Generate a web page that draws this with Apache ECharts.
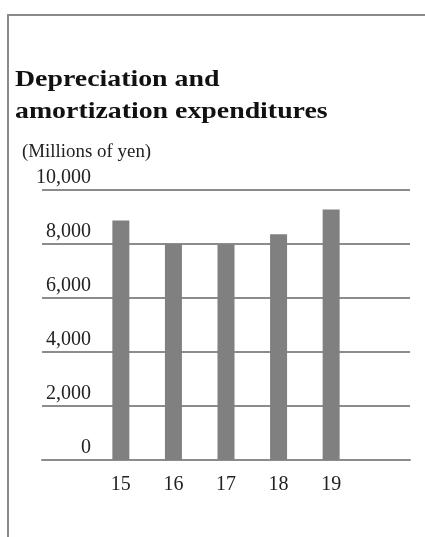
<!DOCTYPE html>
<html>
<head>
<meta charset="utf-8">
<script src="https://cdn.jsdelivr.net/npm/echarts@6/dist/echarts.min.js"></script>
<style>
  html, body { margin: 0; padding: 0; background: #ffffff; }
  #chart { width: 425px; height: 537px; }
</style>
</head>
<body>
<div id="chart"></div>
<script>
// Fiscal years (empty slots pad the band on both sides)
const years = ['15', '16', '17', '18', '19'];
// Depreciation and amortization expenditures, millions of yen
const expenditures = [8870, 8000, 7990, 8360, 9280];
// Value axis ticks
const yMin = 0;
const yMax = 10000;
const yStep = 2000;

const titleLines = ['Depreciation and', 'amortization expenditures'];
const unitLabel = '(Millions of yen)';

const categories = [''].concat(years, ['']);
const seriesData = [null].concat(expenditures, [null]);

const serif = '"Liberation Serif", "Times New Roman", serif';
const lineGray = '#8c8c8c';

const chart = echarts.init(document.getElementById('chart'), null, { renderer: 'canvas' });

// Wide serif title lines, drawn as stretched text
const titleGraphics = titleLines.map((line, i) => ({
  type: 'text',
  x: 15,
  y: 80 + i * 32,
  scaleX: 1.16,
  silent: true,
  style: {
    text: line,
    font: 'bold 24px ' + serif,
    fill: '#111111',
    align: 'left',
    verticalAlign: 'middle'
  }
}));

chart.setOption({
  backgroundColor: '#ffffff',
  animation: false,
  graphic: [
    {
      type: 'polyline',
      silent: true,
      shape: { points: [[8, 537], [8, 15], [425, 15]] },
      style: { stroke: '#8a8a8a', lineWidth: 2, fill: null }
    },
    ...titleGraphics,
    {
      type: 'text',
      x: 22,
      y: 152,
      scaleX: 1.05,
      silent: true,
      style: {
        text: unitLabel,
        font: '18px ' + serif,
        fill: '#222222',
        align: 'left',
        verticalAlign: 'middle'
      }
    }
  ],
  grid: { left: 42, right: 15, top: 190, bottom: 77 },
  xAxis: {
    type: 'category',
    data: categories,
    axisLine: { show: true, lineStyle: { color: lineGray, width: 2 } },
    axisTick: { show: false },
    axisLabel: {
      fontFamily: serif,
      fontSize: 20,
      color: '#222222',
      margin: 15,
      interval: 0
    }
  },
  yAxis: {
    type: 'value',
    min: yMin,
    max: yMax,
    interval: yStep,
    axisLine: { show: false },
    axisTick: { show: false },
    splitLine: { lineStyle: { color: lineGray, width: 2 } },
    axisLabel: {
      fontFamily: serif,
      fontSize: 20,
      color: '#222222',
      align: 'right',
      verticalAlign: 'bottom',
      margin: -49,
      padding: [0, 0, 2, 0],
      formatter: v => v.toLocaleString('en-US')
    }
  },
  series: [{
    type: 'bar',
    data: seriesData,
    barWidth: 17,
    itemStyle: { color: '#808080' }
  }]
});
</script>
</body>
</html>
